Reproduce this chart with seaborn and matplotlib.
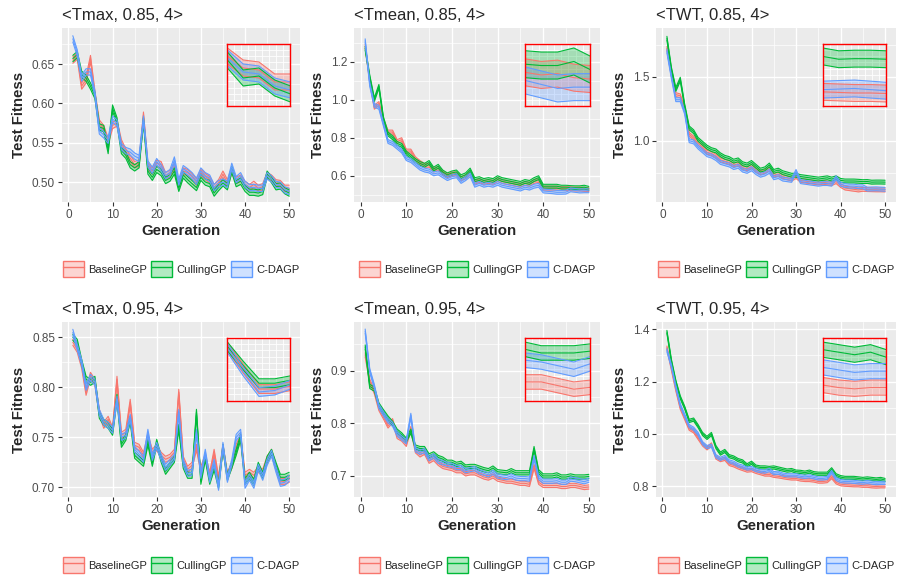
import numpy as np
import seaborn as sns
import matplotlib.pyplot as plt
from matplotlib.colors import to_rgba
from matplotlib.patches import Patch
from matplotlib.lines import Line2D
from matplotlib.legend_handler import HandlerTuple

sns.set_style("darkgrid", {"axes.facecolor": "#EBEBEB", "grid.color": "white"})
plt.rcParams["font.family"] = ["Liberation Sans", "DejaVu Sans"]

generations = list(range(1, 51))
methods = ["BaselineGP", "CullingGP", "C-DAGP"]
colors = {"BaselineGP": "#F8766D", "CullingGP": "#00BA38", "C-DAGP": "#619CFF"}

# ----------------------------
# Test fitness per generation
# ----------------------------
tmax85_base = [0.655, 0.660, 0.622, 0.630, 0.657, 0.612, 0.575, 0.568, 0.552, 0.572,
               0.575, 0.550, 0.538, 0.530, 0.522, 0.524, 0.585, 0.520, 0.514, 0.524,
               0.522, 0.508, 0.511, 0.520, 0.498, 0.514, 0.512, 0.507, 0.500, 0.512,
               0.507, 0.503, 0.493, 0.499, 0.510, 0.499, 0.515, 0.502, 0.505, 0.497,
               0.493, 0.497, 0.492, 0.494, 0.508, 0.505, 0.499, 0.498, 0.492, 0.492]
tmax85_cull = [0.657, 0.662, 0.637, 0.632, 0.622, 0.610, 0.570, 0.568, 0.540, 0.594,
               0.578, 0.540, 0.534, 0.522, 0.518, 0.522, 0.578, 0.514, 0.506, 0.516,
               0.512, 0.502, 0.505, 0.514, 0.492, 0.509, 0.503, 0.498, 0.493, 0.506,
               0.500, 0.498, 0.486, 0.493, 0.499, 0.494, 0.516, 0.498, 0.501, 0.492,
               0.487, 0.487, 0.486, 0.488, 0.510, 0.503, 0.494, 0.495, 0.489, 0.486]
tmax85_cdagp = [0.682, 0.664, 0.632, 0.640, 0.640, 0.612, 0.565, 0.560, 0.553, 0.580,
                0.575, 0.545, 0.540, 0.538, 0.533, 0.530, 0.580, 0.523, 0.515, 0.526,
                0.518, 0.508, 0.512, 0.528, 0.500, 0.517, 0.513, 0.508, 0.501, 0.514,
                0.508, 0.505, 0.493, 0.498, 0.500, 0.497, 0.520, 0.503, 0.508, 0.497,
                0.493, 0.493, 0.492, 0.492, 0.508, 0.504, 0.497, 0.496, 0.490, 0.488]

tmean85_base = [1.28, 1.10, 0.96, 0.98, 0.89, 0.83, 0.83, 0.78, 0.79, 0.73,
                0.73, 0.69, 0.67, 0.655, 0.655, 0.63, 0.64, 0.615, 0.60, 0.61,
                0.61, 0.585, 0.595, 0.615, 0.565, 0.575, 0.565, 0.57, 0.565, 0.58,
                0.57, 0.565, 0.56, 0.555, 0.55, 0.56, 0.555, 0.57, 0.575, 0.535,
                0.535, 0.535, 0.535, 0.533, 0.532, 0.532, 0.530, 0.531, 0.528, 0.527]
tmean85_cull = [1.27, 1.12, 1.00, 1.07, 0.90, 0.82, 0.80, 0.77, 0.76, 0.72,
                0.70, 0.68, 0.665, 0.655, 0.67, 0.635, 0.65, 0.62, 0.605, 0.615,
                0.62, 0.595, 0.605, 0.63, 0.58, 0.585, 0.575, 0.58, 0.575, 0.59,
                0.58, 0.575, 0.57, 0.565, 0.56, 0.57, 0.565, 0.58, 0.59, 0.545,
                0.545, 0.545, 0.545, 0.54, 0.54, 0.538, 0.537, 0.537, 0.540, 0.534]
tmean85_cdagp = [1.31, 1.08, 0.97, 0.96, 0.87, 0.78, 0.77, 0.75, 0.73, 0.69,
                 0.68, 0.66, 0.64, 0.63, 0.625, 0.61, 0.615, 0.60, 0.585, 0.595,
                 0.60, 0.57, 0.585, 0.605, 0.55, 0.56, 0.55, 0.555, 0.55, 0.56,
                 0.55, 0.545, 0.54, 0.535, 0.53, 0.54, 0.535, 0.545, 0.55, 0.52,
                 0.518, 0.516, 0.513, 0.513, 0.514, 0.526, 0.523, 0.520, 0.521, 0.521]

twt85_base = [1.72, 1.52, 1.36, 1.35, 1.24, 1.05, 1.02, 0.98, 0.95, 0.91,
              0.90, 0.88, 0.85, 0.84, 0.83, 0.81, 0.82, 0.79, 0.78, 0.80,
              0.77, 0.75, 0.76, 0.78, 0.73, 0.74, 0.72, 0.71, 0.70, 0.72,
              0.69, 0.685, 0.68, 0.675, 0.67, 0.675, 0.67, 0.665, 0.68, 0.65,
              0.63, 0.625, 0.62, 0.615, 0.62, 0.618, 0.617, 0.616, 0.616, 0.615]
twt85_cull = [1.80, 1.56, 1.40, 1.48, 1.27, 1.10, 1.07, 1.01, 0.98, 0.95,
              0.93, 0.92, 0.89, 0.87, 0.86, 0.84, 0.85, 0.82, 0.81, 0.83,
              0.80, 0.77, 0.78, 0.81, 0.76, 0.77, 0.75, 0.74, 0.73, 0.73,
              0.72, 0.715, 0.71, 0.705, 0.70, 0.705, 0.71, 0.70, 0.71, 0.69,
              0.685, 0.685, 0.685, 0.683, 0.68, 0.681, 0.676, 0.677, 0.677, 0.676]
twt85_cdagp = [1.70, 1.50, 1.32, 1.32, 1.22, 1.00, 0.99, 0.95, 0.92, 0.89,
               0.88, 0.86, 0.83, 0.82, 0.81, 0.79, 0.80, 0.77, 0.76, 0.78,
               0.75, 0.73, 0.74, 0.76, 0.71, 0.72, 0.70, 0.695, 0.69, 0.76,
               0.68, 0.675, 0.67, 0.665, 0.66, 0.665, 0.665, 0.66, 0.71, 0.66,
               0.65, 0.645, 0.645, 0.64, 0.64, 0.622, 0.623, 0.624, 0.622, 0.620]

tmax95_base = [0.845, 0.838, 0.822, 0.795, 0.812, 0.805, 0.775, 0.762, 0.768, 0.757,
               0.808, 0.752, 0.755, 0.785, 0.742, 0.740, 0.732, 0.750, 0.735, 0.740,
               0.732, 0.728, 0.730, 0.735, 0.795, 0.728, 0.718, 0.722, 0.740, 0.718,
               0.730, 0.712, 0.735, 0.708, 0.740, 0.712, 0.722, 0.740, 0.750, 0.712,
               0.715, 0.712, 0.718, 0.715, 0.728, 0.735, 0.720, 0.706, 0.706, 0.708]
tmax95_cull = [0.850, 0.845, 0.825, 0.808, 0.805, 0.808, 0.772, 0.765, 0.762, 0.755,
               0.790, 0.743, 0.750, 0.768, 0.732, 0.728, 0.724, 0.745, 0.724, 0.745,
               0.728, 0.716, 0.722, 0.728, 0.760, 0.722, 0.712, 0.712, 0.775, 0.706,
               0.730, 0.706, 0.720, 0.702, 0.740, 0.710, 0.722, 0.735, 0.750, 0.706,
               0.712, 0.705, 0.722, 0.712, 0.728, 0.735, 0.722, 0.710, 0.710, 0.712]
tmax95_cdagp = [0.855, 0.840, 0.825, 0.800, 0.810, 0.805, 0.775, 0.765, 0.762, 0.757,
                0.788, 0.750, 0.752, 0.770, 0.738, 0.733, 0.728, 0.755, 0.730, 0.742,
                0.730, 0.720, 0.725, 0.730, 0.775, 0.725, 0.714, 0.715, 0.755, 0.712,
                0.735, 0.708, 0.725, 0.700, 0.742, 0.708, 0.725, 0.750, 0.755, 0.702,
                0.710, 0.702, 0.720, 0.710, 0.725, 0.734, 0.718, 0.704, 0.705, 0.709]

tmean95_base = [0.930, 0.880, 0.860, 0.828, 0.812, 0.795, 0.805, 0.775, 0.770, 0.760,
                0.790, 0.748, 0.740, 0.745, 0.728, 0.733, 0.724, 0.718, 0.716, 0.714,
                0.710, 0.710, 0.704, 0.706, 0.706, 0.702, 0.698, 0.696, 0.700, 0.694,
                0.692, 0.690, 0.690, 0.688, 0.686, 0.686, 0.684, 0.718, 0.688, 0.682,
                0.682, 0.682, 0.682, 0.680, 0.680, 0.682, 0.682, 0.680, 0.678, 0.679]
tmean95_cull = [0.945, 0.870, 0.865, 0.835, 0.822, 0.810, 0.800, 0.785, 0.778, 0.768,
                0.785, 0.755, 0.752, 0.752, 0.738, 0.742, 0.735, 0.732, 0.726, 0.726,
                0.722, 0.724, 0.717, 0.718, 0.718, 0.715, 0.712, 0.710, 0.715, 0.708,
                0.707, 0.706, 0.710, 0.706, 0.706, 0.706, 0.706, 0.752, 0.708, 0.700,
                0.700, 0.700, 0.702, 0.698, 0.698, 0.700, 0.698, 0.698, 0.698, 0.699]
tmean95_cdagp = [0.975, 0.900, 0.870, 0.832, 0.818, 0.805, 0.798, 0.780, 0.772, 0.765,
                 0.815, 0.750, 0.745, 0.748, 0.733, 0.738, 0.728, 0.725, 0.722, 0.720,
                 0.716, 0.716, 0.710, 0.712, 0.714, 0.708, 0.705, 0.702, 0.707, 0.700,
                 0.698, 0.697, 0.700, 0.696, 0.695, 0.695, 0.694, 0.735, 0.697, 0.690,
                 0.690, 0.690, 0.691, 0.688, 0.688, 0.694, 0.693, 0.691, 0.689, 0.692]

twt95_base = [1.33, 1.25, 1.17, 1.10, 1.06, 1.02, 1.01, 0.985, 0.96, 0.945,
              0.96, 0.91, 0.90, 0.905, 0.885, 0.88, 0.872, 0.866, 0.86, 0.862,
              0.855, 0.85, 0.845, 0.845, 0.84, 0.838, 0.835, 0.832, 0.83, 0.83,
              0.826, 0.824, 0.824, 0.822, 0.818, 0.818, 0.82, 0.835, 0.815, 0.808,
              0.806, 0.805, 0.804, 0.804, 0.802, 0.802, 0.800, 0.799, 0.800, 0.800]
twt95_cull = [1.39, 1.28, 1.20, 1.14, 1.10, 1.05, 1.055, 1.03, 1.00, 0.985,
              1.00, 0.95, 0.925, 0.935, 0.915, 0.91, 0.90, 0.895, 0.88, 0.89,
              0.875, 0.872, 0.872, 0.87, 0.872, 0.868, 0.864, 0.86, 0.862, 0.856,
              0.855, 0.852, 0.856, 0.85, 0.848, 0.848, 0.848, 0.865, 0.842, 0.835,
              0.832, 0.832, 0.832, 0.83, 0.828, 0.830, 0.828, 0.826, 0.828, 0.824]
twt95_cdagp = [1.32, 1.26, 1.18, 1.11, 1.07, 1.03, 1.02, 1.00, 0.965, 0.95,
               0.955, 0.915, 0.905, 0.912, 0.895, 0.89, 0.88, 0.875, 0.868, 0.87,
               0.862, 0.858, 0.856, 0.862, 0.85, 0.852, 0.845, 0.842, 0.842, 0.842,
               0.838, 0.836, 0.838, 0.834, 0.83, 0.83, 0.832, 0.855, 0.828, 0.82,
               0.818, 0.818, 0.817, 0.815, 0.814, 0.816, 0.814, 0.812, 0.813, 0.813]

panels = [
    ("<Tmax, 0.85, 4>", [tmax85_base, tmax85_cull, tmax85_cdagp], 0.004,
     (0.4746, 0.6958), [0.50, 0.55, 0.60, 0.65], "{:.2f}"),
    ("<Tmean, 0.85, 4>", [tmean85_base, tmean85_cull, tmean85_cdagp], 0.010,
     (0.462, 1.377), [0.6, 0.8, 1.0, 1.2], "{:.1f}"),
    ("<TWT, 0.85, 4>", [twt85_base, twt85_cull, twt85_cdagp], 0.015,
     (0.521, 1.880), [1.0, 1.5], "{:.1f}"),
    ("<Tmax, 0.95, 4>", [tmax95_base, tmax95_cull, tmax95_cdagp], 0.003,
     (0.6903, 0.8653), [0.70, 0.75, 0.80, 0.85], "{:.2f}"),
    ("<Tmean, 0.95, 4>", [tmean95_base, tmean95_cull, tmean95_cdagp], 0.004,
     (0.660, 0.9924), [0.7, 0.8, 0.9], "{:.1f}"),
    ("<TWT, 0.95, 4>", [twt95_base, twt95_cull, twt95_cdagp], 0.006,
     (0.759, 1.428), [0.8, 1.0, 1.2, 1.4], "{:.1f}"),
]

W, H = 899, 579
fig = plt.figure(figsize=(W / 100, H / 100), dpi=100)
col_px = [(62, 300), (354, 600), (656, 896)]
row_px = [(28, 202), (322, 497)]
legend_y = [269, 565]
zoom_from = 46  # inset shows the last generations


def px_rect(l, r, t, b):
    return [l / W, 1 - b / H, (r - l) / W, (b - t) / H]


def draw_bands(ax, series, half, lw):
    for name, vals in zip(methods, series):
        y = np.array(vals)
        lo, hi = y - half, y + half
        ax.fill_between(generations, lo, hi, color=colors[name], alpha=0.3, lw=0)
        for v in (lo, y, hi):
            sns.lineplot(x=generations, y=v, color=colors[name], lw=lw, ax=ax)


for i, (title, series, half, ylim, yticks, fmt) in enumerate(panels):
    r, c = divmod(i, 3)
    (l, rt), (t, b) = col_px[c], row_px[r]
    ax = fig.add_axes(px_rect(l, rt, t, b))
    draw_bands(ax, series, half, 0.8)

    ax.set_xlim(-1.45, 52.45)
    ax.set_ylim(*ylim)
    ax.set_xticks([0, 10, 20, 30, 40, 50])
    ax.set_xticks([5, 15, 25, 35, 45], minor=True)
    ax.set_yticks(yticks)
    ax.set_yticklabels([fmt.format(v) for v in yticks])
    step = yticks[1] - yticks[0]
    minor = [v + step / 2 for v in [yticks[0] - step] + yticks]
    ax.set_yticks([m for m in minor if ylim[0] < m < ylim[1]], minor=True)
    ax.grid(True, which="major", color="white", lw=1.0)
    ax.grid(True, which="minor", color="white", lw=0.5)
    ax.tick_params(which="major", bottom=True, left=True, length=3, width=0.8,
                   color="#333333", labelsize=8.5, labelcolor="#4D4D4D", pad=2)
    ax.tick_params(which="minor", length=0)
    for s in ax.spines.values():
        s.set_visible(False)
    ax.set_xlabel("Generation", fontsize=10.8, fontweight="bold", labelpad=2)
    ax.set_ylabel("Test Fitness", fontsize=10.8, fontweight="bold", labelpad=4)
    ax.set_title(title, loc="left", fontsize=12, pad=6)

    # zoomed inset of the last generations
    axin = ax.inset_axes([0.695, 0.55, 0.265, 0.36])
    axin.set_facecolor("#EBEBEB")
    draw_bands(axin, series, half, 0.8)
    tail = np.concatenate([np.array(s[zoom_from - 1:]) for s in series])
    y0, y1 = tail.min() - half, tail.max() + half
    pad = (y1 - y0) * 0.08
    axin.set_xlim(zoom_from, 50)
    axin.set_ylim(y0 - pad, y1 + pad)
    axin.set_xticks(np.linspace(zoom_from, 50, 10))
    axin.set_yticks(np.linspace(y0 - pad, y1 + pad, 11))
    axin.tick_params(length=0, labelbottom=False, labelleft=False)
    axin.grid(True, color="white", lw=0.6)
    axin.set_xlabel("")
    axin.set_ylabel("")
    for s in axin.spines.values():
        s.set_visible(True)
        s.set_color("#FF0000")
        s.set_linestyle((0, (5, 1)))
        s.set_linewidth(1.0)

    handles = [(Patch(facecolor=to_rgba(colors[m], 0.3), edgecolor=colors[m], lw=1.0),
                Line2D([], [], color=colors[m], lw=1.0)) for m in methods]
    fig.legend(handles, methods, loc="center", ncol=3, frameon=False,
               bbox_to_anchor=((l + rt) / 2 / W, 1 - legend_y[r] / H),
               handler_map={tuple: HandlerTuple(ndivide=1, pad=0)},
               fontsize=8, handlelength=1.9, handleheight=1.9,
               handletextpad=0.35, columnspacing=0.4)

plt.savefig("out.png", dpi=100)
plt.close()
